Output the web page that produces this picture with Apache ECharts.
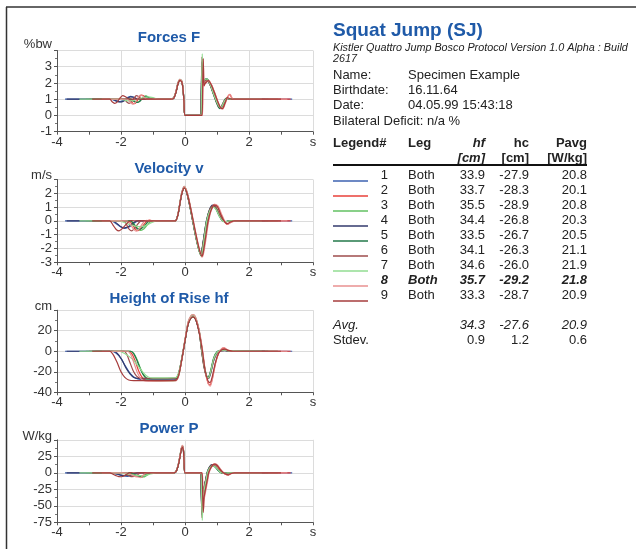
<!DOCTYPE html>
<html><head><meta charset="utf-8">
<script src="https://cdn.jsdelivr.net/npm/echarts@6.0.0/dist/echarts.min.js"></script>
<style>html,body{margin:0;padding:0;background:#fff}#c{width:636px;height:549px}</style>
</head><body><div id="c"></div>
<script>
// ---------- table / legend data ----------
const seriesColors = ['#3c62b0','#e8403a','#62c062','#333a6c','#23784a','#9e4c4c','#92dc92','#e89090','#a63c3c'];
const trialNums = ['1','2','3','4','5','6','7','8','9'];
const trialLegs = ['Both','Both','Both','Both','Both','Both','Both','Both','Both'];
const hfVals = ['33.9','33.7','35.5','34.4','33.5','34.1','34.6','35.7','33.3'];
const hcVals = ['-27.9','-28.3','-28.9','-26.8','-26.7','-26.3','-26.0','-29.2','-28.7'];
const pavgVals = ['20.8','20.1','20.8','20.3','20.5','21.1','21.9','21.8','20.9'];
const bestTrial = 8;
const avgRow = ['Avg.','34.3','-27.6','20.9'];
const stdevRow = ['Stdev.','0.9','1.2','0.6'];
const xTicks = ['-4','-2','0','2','s'];

// ---------- Forces F [%bw] ----------
const forces = [
[[-3.75,1],[-2.3,1],[-2.2,0.92],[-2.05,0.85],[-1.95,0.9],[-1.85,1.05],[-1.7,1.18],[-1.6,1.12],[-1.5,1.02],[-1.3,1],[-0.45,1],[-0.35,1.08],[-0.28,1.45],[-0.22,1.95],[-0.16,2.18],[-0.1,2.08],[-0.06,1.6],[-0.03,0.8],[0,0],[0.49,0],[0.51,1.4],[0.53,3.2],[0.555,1.9],[0.6,2.1],[0.68,2.2],[0.78,1.9],[0.88,1.4],[0.98,0.9],[1.06,0.55],[1.12,0.5],[1.2,0.8],[1.3,1.05],[1.4,1.0],[3.35,1]],
[[-3.0,1],[-1.75,1],[-1.68,0.85],[-1.6,0.72],[-1.52,0.8],[-1.45,1.05],[-1.37,1.25],[-1.28,1.2],[-1.2,1.05],[-1.1,1],[-0.45,1],[-0.35,1.07],[-0.28,1.42],[-0.22,1.92],[-0.16,2.15],[-0.1,2.05],[-0.06,1.55],[-0.03,0.75],[0,0],[0.52,0],[0.54,1.3],[0.56,3.4],[0.585,1.8],[0.63,2.0],[0.72,2.2],[0.82,1.9],[0.92,1.4],[1.02,0.85],[1.1,0.5],[1.16,0.42],[1.24,0.75],[1.33,1.15],[1.4,1.3],[1.47,1.05],[1.6,1.0],[3.3,1]],
[[-3.1,1],[-1.7,1],[-1.6,0.9],[-1.5,0.8],[-1.42,0.88],[-1.32,1.08],[-1.22,1.2],[-1.12,1.1],[-1.02,1.02],[-0.9,1],[-0.45,1],[-0.35,1.1],[-0.28,1.5],[-0.22,2.0],[-0.16,2.22],[-0.1,2.12],[-0.06,1.62],[-0.03,0.82],[0,0],[0.51,0],[0.53,1.5],[0.55,3.0],[0.575,2.0],[0.62,2.15],[0.7,2.2],[0.8,1.85],[0.9,1.3],[1.0,0.8],[1.08,0.55],[1.14,0.5],[1.22,0.85],[1.32,1.05],[1.45,1.0],[2.9,1]],
[[-3.7,1],[-2.25,1],[-2.15,0.9],[-2.02,0.83],[-1.92,0.88],[-1.82,1.02],[-1.7,1.15],[-1.6,1.12],[-1.5,1.03],[-1.35,1],[-0.45,1],[-0.35,1.08],[-0.28,1.48],[-0.22,1.98],[-0.16,2.2],[-0.1,2.1],[-0.06,1.6],[-0.03,0.8],[0,0],[0.49,0],[0.51,1.6],[0.53,3.3],[0.555,2.0],[0.6,2.15],[0.68,2.25],[0.78,1.95],[0.88,1.4],[0.98,0.85],[1.06,0.5],[1.12,0.45],[1.2,0.75],[1.3,1.05],[1.42,1.0],[2.5,1]],
[[-2.9,1],[-1.7,1],[-1.6,0.88],[-1.5,0.8],[-1.42,0.86],[-1.33,1.05],[-1.23,1.18],[-1.13,1.1],[-1.03,1.02],[-0.9,1],[-0.45,1],[-0.35,1.07],[-0.28,1.45],[-0.22,1.95],[-0.16,2.17],[-0.1,2.07],[-0.06,1.58],[-0.03,0.78],[0,0],[0.49,0],[0.51,1.5],[0.53,2.8],[0.555,2.05],[0.6,2.2],[0.68,2.25],[0.78,1.9],[0.88,1.35],[0.98,0.8],[1.05,0.5],[1.1,0.42],[1.18,0.7],[1.28,1.05],[1.4,1.0],[2.6,1]],
[[-2.8,1],[-1.9,1],[-1.83,0.85],[-1.75,0.75],[-1.68,0.82],[-1.6,1.05],[-1.52,1.22],[-1.44,1.15],[-1.36,1.03],[-1.25,1],[-0.45,1],[-0.35,1.08],[-0.28,1.47],[-0.22,1.97],[-0.16,2.19],[-0.1,2.09],[-0.06,1.6],[-0.03,0.8],[0,0],[0.49,0],[0.51,1.5],[0.53,3.6],[0.555,1.9],[0.6,2.05],[0.68,2.2],[0.78,1.9],[0.88,1.4],[0.98,0.88],[1.06,0.55],[1.12,0.5],[1.2,0.8],[1.3,1.05],[1.42,1.0],[2.9,1]],
[[-3.3,1],[-2.05,1],[-1.9,0.95],[-1.75,0.9],[-1.6,0.92],[-1.45,1.0],[-1.3,1.1],[-1.15,1.15],[-1.0,1.1],[-0.88,1.02],[-0.8,1],[-0.45,1],[-0.35,1.1],[-0.28,1.5],[-0.22,2.0],[-0.16,2.2],[-0.1,2.1],[-0.06,1.6],[-0.03,0.8],[0,0],[0.5,0],[0.52,1.6],[0.54,3.8],[0.565,2.1],[0.61,2.2],[0.69,2.25],[0.79,1.9],[0.89,1.35],[0.99,0.85],[1.07,0.55],[1.13,0.5],[1.21,0.8],[1.31,1.05],[1.42,1.0],[2.4,1]],
[[-2.6,1],[-1.8,1],[-1.72,0.85],[-1.64,0.7],[-1.56,0.78],[-1.48,1.05],[-1.4,1.25],[-1.32,1.2],[-1.24,1.05],[-1.15,1],[-0.45,1],[-0.35,1.1],[-0.28,1.52],[-0.22,2.02],[-0.16,2.23],[-0.1,2.13],[-0.06,1.63],[-0.03,0.82],[0,0],[0.54,0],[0.56,1.3],[0.58,3.1],[0.6,1.9],[0.65,2.0],[0.74,2.15],[0.84,1.85],[0.94,1.35],[1.04,0.8],[1.12,0.45],[1.18,0.4],[1.26,0.75],[1.34,1.15],[1.41,1.3],[1.48,1.05],[1.6,1.0],[3.2,1]],
[[-2.9,1],[-2.35,1],[-2.28,0.85],[-2.2,0.75],[-2.12,0.82],[-2.04,1.05],[-1.95,1.22],[-1.86,1.15],[-1.77,1.03],[-1.65,1],[-0.45,1],[-0.35,1.07],[-0.28,1.44],[-0.22,1.94],[-0.16,2.16],[-0.1,2.06],[-0.06,1.57],[-0.03,0.78],[0,0],[0.53,0],[0.55,1.4],[0.57,3.5],[0.595,1.85],[0.64,2.0],[0.73,2.15],[0.83,1.85],[0.93,1.35],[1.03,0.82],[1.11,0.48],[1.17,0.42],[1.25,0.75],[1.33,1.1],[1.45,1.0],[3.0,1]]
];

// ---------- Velocity v [m/s] ----------
const velocity = [
[[-3.75,0],[-2.3,0],[-2.15,-0.2],[-2.0,-0.45],[-1.9,-0.55],[-1.8,-0.5],[-1.65,-0.3],[-1.55,-0.1],[-1.45,0.02],[-1.3,0],[-0.3,0],[-0.25,0.2],[-0.2,0.7],[-0.15,1.4],[-0.1,2.0],[-0.05,2.35],[-0.02,2.42],[0.5,-2.45],[0.54,-2.0],[0.6,-1.1],[0.68,0],[0.78,0.8],[0.88,1.1],[0.98,0.9],[1.08,0.4],[1.18,0.02],[1.28,-0.05],[1.4,0],[3.35,0]],
[[-3.0,0],[-1.75,0],[-1.65,-0.25],[-1.55,-0.6],[-1.47,-0.7],[-1.38,-0.55],[-1.28,-0.25],[-1.2,-0.05],[-1.1,0.05],[-1.0,0],[-0.3,0],[-0.25,0.2],[-0.2,0.65],[-0.15,1.35],[-0.1,1.95],[-0.05,2.33],[-0.02,2.4],[0.53,-2.6],[0.57,-2.2],[0.63,-1.3],[0.71,-0.1],[0.8,0.75],[0.92,1.2],[1.02,1.05],[1.12,0.5],[1.22,0.0],[1.32,-0.25],[1.42,-0.1],[1.55,0],[3.3,0]],
[[-3.1,0],[-1.7,0],[-1.6,-0.2],[-1.5,-0.5],[-1.4,-0.68],[-1.3,-0.6],[-1.2,-0.35],[-1.1,-0.1],[-1.0,0],[-0.3,0],[-0.25,0.22],[-0.2,0.72],[-0.15,1.45],[-0.1,2.05],[-0.05,2.4],[-0.02,2.5],[0.52,-2.55],[0.56,-2.1],[0.62,-1.15],[0.7,0],[0.8,0.8],[0.9,1.1],[1.0,0.85],[1.1,0.35],[1.2,0],[1.3,-0.05],[1.4,0],[2.9,0]],
[[-3.7,0],[-2.25,0],[-2.12,-0.2],[-2.0,-0.42],[-1.9,-0.5],[-1.8,-0.45],[-1.7,-0.3],[-1.6,-0.12],[-1.5,0],[-0.3,0],[-0.25,0.2],[-0.2,0.7],[-0.15,1.4],[-0.1,2.0],[-0.05,2.38],[-0.02,2.45],[0.5,-2.45],[0.54,-1.95],[0.6,-1.0],[0.67,0],[0.77,0.85],[0.86,1.15],[0.96,0.95],[1.06,0.45],[1.16,0.05],[1.26,-0.05],[1.36,0],[2.5,0]],
[[-2.9,0],[-1.7,0],[-1.6,-0.25],[-1.5,-0.55],[-1.42,-0.62],[-1.33,-0.5],[-1.23,-0.25],[-1.15,-0.05],[-1.0,0],[-0.3,0],[-0.25,0.2],[-0.2,0.68],[-0.15,1.38],[-0.1,1.98],[-0.05,2.33],[-0.02,2.4],[0.5,-2.5],[0.54,-2.0],[0.6,-1.05],[0.67,0],[0.77,0.8],[0.87,1.05],[0.97,0.85],[1.07,0.35],[1.17,0],[1.27,-0.05],[1.37,0],[2.6,0]],
[[-2.8,0],[-1.9,0],[-1.82,-0.3],[-1.74,-0.62],[-1.66,-0.72],[-1.58,-0.55],[-1.5,-0.3],[-1.42,-0.08],[-1.35,0.03],[-1.2,0],[-0.3,0],[-0.25,0.2],[-0.2,0.7],[-0.15,1.4],[-0.1,2.0],[-0.05,2.36],[-0.02,2.43],[0.5,-2.45],[0.54,-2.0],[0.6,-1.1],[0.68,0],[0.78,0.85],[0.88,1.12],[0.98,0.9],[1.08,0.4],[1.18,0.02],[1.28,-0.08],[1.4,0],[2.9,0]],
[[-3.3,0],[-2.05,0],[-1.9,-0.12],[-1.75,-0.25],[-1.6,-0.35],[-1.45,-0.42],[-1.3,-0.4],[-1.15,-0.25],[-1.0,-0.08],[-0.9,0],[-0.3,0],[-0.25,0.22],[-0.2,0.72],[-0.15,1.42],[-0.1,2.02],[-0.05,2.37],[-0.02,2.45],[0.51,-2.5],[0.55,-2.05],[0.61,-1.1],[0.68,0],[0.78,0.75],[0.88,1.0],[0.98,0.8],[1.08,0.3],[1.18,-0.02],[1.28,-0.05],[1.38,0],[2.4,0]],
[[-2.6,0],[-1.8,0],[-1.7,-0.28],[-1.6,-0.62],[-1.52,-0.75],[-1.44,-0.6],[-1.36,-0.3],[-1.28,-0.06],[-1.2,0.04],[-1.1,0],[-0.3,0],[-0.25,0.22],[-0.2,0.74],[-0.15,1.46],[-0.1,2.07],[-0.05,2.42],[-0.02,2.5],[0.55,-2.6],[0.59,-2.25],[0.65,-1.4],[0.73,-0.15],[0.82,0.75],[0.94,1.2],[1.04,1.05],[1.14,0.5],[1.24,0],[1.34,-0.25],[1.44,-0.12],[1.58,0],[3.2,0]],
[[-2.9,0],[-2.35,0],[-2.25,-0.3],[-2.15,-0.62],[-2.06,-0.72],[-1.97,-0.58],[-1.87,-0.32],[-1.77,-0.08],[-1.68,0.02],[-1.5,0],[-0.3,0],[-0.25,0.2],[-0.2,0.68],[-0.15,1.38],[-0.1,1.97],[-0.05,2.32],[-0.02,2.4],[0.54,-2.55],[0.58,-2.15],[0.64,-1.25],[0.72,-0.05],[0.81,0.75],[0.92,1.15],[1.02,1.0],[1.12,0.45],[1.22,0],[1.32,-0.2],[1.42,-0.08],[1.55,0],[3.0,0]]
];

// ---------- Height of Rise hf [cm] ----------
const height = [
[[-3.75,0],[-2.3,0],[-2.15,-2],[-2.0,-7],[-1.85,-15],[-1.7,-22],[-1.55,-26],[-1.4,-27.5],[-1.0,-27.9],[-0.6,-27.9],[-0.3,-27.6],[-0.2,-23],[-0.1,-8],[0,10],[0.1,27],[0.2,33.5],[0.26,33.9],[0.35,30],[0.45,18],[0.52,4],[0.6,-14],[0.68,-25],[0.74,-26.5],[0.8,-22],[0.9,-9],[1.0,-2],[1.1,0.5],[1.2,1],[1.35,0.3],[1.6,0],[3.35,0]],
[[-3.0,0],[-1.75,0],[-1.65,-3],[-1.55,-10],[-1.45,-19],[-1.35,-25],[-1.25,-28],[-1.1,-28.3],[-0.6,-28.3],[-0.3,-28],[-0.2,-23.5],[-0.1,-8.5],[0,10],[0.1,27],[0.2,33.3],[0.26,33.7],[0.35,30],[0.45,18],[0.53,3],[0.62,-18],[0.72,-31],[0.78,-33],[0.85,-27],[0.95,-12],[1.05,-2],[1.15,2.5],[1.22,3],[1.32,1],[1.5,0],[3.3,0]],
[[-3.1,0],[-1.7,0],[-1.6,-2],[-1.5,-8],[-1.4,-16],[-1.3,-23],[-1.2,-27],[-1.1,-28.5],[-0.9,-28.9],[-0.3,-28.6],[-0.2,-24],[-0.1,-8],[0,11],[0.1,28.5],[0.2,35],[0.26,35.5],[0.35,31.5],[0.45,19],[0.52,5],[0.6,-13],[0.68,-24],[0.74,-26],[0.8,-21],[0.9,-8],[1.0,-1.5],[1.1,0.5],[1.25,0.8],[1.4,0.2],[2.9,0]],
[[-3.7,0],[-2.25,0],[-2.12,-2],[-1.98,-8],[-1.85,-16],[-1.72,-22],[-1.6,-25.5],[-1.45,-26.5],[-1.0,-26.8],[-0.3,-26.6],[-0.2,-22],[-0.1,-7],[0,10.5],[0.1,27.5],[0.2,34],[0.26,34.4],[0.35,30.5],[0.45,18.5],[0.5,6],[0.58,-12],[0.66,-23],[0.72,-25.5],[0.8,-20],[0.9,-7],[1.0,-1],[1.1,0.3],[1.25,0.5],[1.4,0],[2.5,0]],
[[-2.9,0],[-1.7,0],[-1.6,-2.5],[-1.5,-9],[-1.4,-17],[-1.3,-23],[-1.2,-26],[-1.05,-26.7],[-0.3,-26.5],[-0.2,-22],[-0.1,-7.5],[0,10],[0.1,26.5],[0.2,33],[0.26,33.5],[0.35,29.5],[0.45,17.5],[0.5,5],[0.58,-12],[0.66,-23.5],[0.72,-26],[0.8,-19],[0.9,-6],[1.0,-0.5],[1.1,1],[1.2,1.2],[1.35,0.3],[2.6,0]],
[[-2.8,0],[-1.9,0],[-1.82,-3],[-1.72,-11],[-1.62,-19],[-1.52,-24],[-1.42,-26],[-1.25,-26.3],[-0.3,-26.1],[-0.2,-21.5],[-0.1,-7],[0,10.5],[0.1,27],[0.2,33.7],[0.26,34.1],[0.35,30.2],[0.45,18],[0.5,5],[0.58,-13],[0.66,-24],[0.72,-26.5],[0.8,-21],[0.9,-8],[1.0,-1.5],[1.1,0.3],[1.25,0.8],[1.4,0],[2.9,0]],
[[-3.3,0],[-2.05,0],[-1.9,-2],[-1.75,-5],[-1.6,-9],[-1.45,-15],[-1.3,-21],[-1.15,-25],[-1.0,-26],[-0.3,-25.8],[-0.2,-21],[-0.1,-6.5],[0,11],[0.1,27.5],[0.2,34.2],[0.26,34.6],[0.35,30.8],[0.45,18.5],[0.51,5],[0.6,-14],[0.67,-24],[0.73,-26],[0.8,-20],[0.9,-7],[1.0,-1],[1.1,0.8],[1.25,1],[1.4,0.3],[2.4,0]],
[[-2.6,0],[-1.8,0],[-1.7,-3],[-1.6,-11],[-1.5,-20],[-1.4,-26],[-1.3,-28.5],[-1.15,-29.2],[-0.3,-29],[-0.2,-24.5],[-0.1,-8.5],[0,11.5],[0.1,29],[0.2,35.2],[0.26,35.7],[0.35,31.8],[0.45,19.5],[0.55,1],[0.64,-20],[0.73,-32],[0.79,-34],[0.86,-27],[0.96,-11],[1.06,-1],[1.16,3],[1.22,3.5],[1.32,1.5],[1.5,0],[3.2,0]],
[[-2.9,0],[-2.35,0],[-2.25,-3],[-2.12,-11],[-2.0,-20],[-1.88,-25.5],[-1.76,-28],[-1.6,-28.7],[-0.3,-28.5],[-0.2,-23.5],[-0.1,-8],[0,10],[0.1,26.5],[0.2,32.9],[0.26,33.3],[0.35,29.4],[0.45,17],[0.54,1],[0.63,-19],[0.72,-29],[0.78,-30.5],[0.85,-25],[0.95,-11],[1.05,-2],[1.15,1.5],[1.25,2],[1.35,0.8],[1.5,0],[3.0,0]]
];

// ---------- Power P [W/kg] ----------
const power = [
[[-3.75,0],[-2.3,0],[-2.15,-1.7],[-2.0,-3.8],[-1.9,-4.8],[-1.8,-5.3],[-1.7,-4.5],[-1.6,-2.2],[-1.5,-0.5],[-1.4,0.1],[-1.3,0],[-0.35,0],[-0.28,2],[-0.22,10],[-0.16,24],[-0.12,35],[-0.08,40],[-0.05,35],[-0.03,19],[0,0],[0.49,0],[0.51,-30],[0.53,-62],[0.555,-38],[0.6,-23],[0.66,-8],[0.7,0],[0.78,9],[0.86,12],[0.95,9],[1.04,4],[1.12,0.5],[1.2,-0.8],[1.3,-0.3],[1.4,0],[3.35,0]],
[[-3.0,0],[-1.75,0],[-1.66,-1.8],[-1.57,-4.3],[-1.5,-5.2],[-1.42,-5.5],[-1.35,-6.5],[-1.28,-3.2],[-1.2,-0.6],[-1.1,0.4],[-1.0,0],[-0.35,0],[-0.28,1.8],[-0.22,9.5],[-0.16,23.5],[-0.12,34],[-0.08,39],[-0.05,34],[-0.03,18],[0,0],[0.52,0],[0.54,-28],[0.56,-58],[0.585,-36],[0.63,-24],[0.69,-10],[0.73,0],[0.8,8],[0.9,13],[0.99,11],[1.08,5],[1.17,0.5],[1.26,-2],[1.34,-3.3],[1.42,-1.2],[1.55,0],[3.3,0]],
[[-3.1,0],[-1.7,0],[-1.6,-1.6],[-1.5,-3.9],[-1.4,-5.8],[-1.3,-6.4],[-1.2,-4.1],[-1.1,-1.1],[-1.0,0],[-0.35,0],[-0.28,2.1],[-0.22,10.5],[-0.16,25],[-0.12,36],[-0.08,41],[-0.05,36],[-0.03,19.5],[0,0],[0.51,0],[0.53,-32],[0.55,-55],[0.575,-40],[0.62,-24],[0.68,-7],[0.71,0],[0.79,9],[0.87,11.5],[0.96,9],[1.05,3.5],[1.13,0.2],[1.22,-0.5],[1.32,-0.3],[1.42,0],[2.9,0]],
[[-3.7,0],[-2.25,0],[-2.12,-1.8],[-2.0,-3.4],[-1.9,-4.3],[-1.8,-4.5],[-1.7,-3.4],[-1.6,-1.3],[-1.5,0],[-0.35,0],[-0.28,2],[-0.22,10],[-0.16,24.5],[-0.12,35.5],[-0.08,40.5],[-0.05,35.5],[-0.03,19],[0,0],[0.49,0],[0.51,-35],[0.53,-64],[0.555,-40],[0.6,-21],[0.66,-7],[0.69,0],[0.77,9.5],[0.85,12.5],[0.94,10],[1.03,4.5],[1.11,1],[1.2,-0.5],[1.3,-0.2],[1.4,0],[2.5,0]],
[[-2.9,0],[-1.7,0],[-1.6,-2.1],[-1.5,-4.3],[-1.42,-5.2],[-1.33,-5.1],[-1.23,-2.9],[-1.15,-0.6],[-1.05,0],[-0.35,0],[-0.28,1.9],[-0.22,9.5],[-0.16,23.5],[-0.12,34.5],[-0.08,39.5],[-0.05,34.5],[-0.03,18.5],[0,0],[0.49,0],[0.51,-32],[0.53,-55],[0.555,-40],[0.6,-23],[0.66,-8],[0.69,0],[0.77,8.5],[0.86,11],[0.95,8.5],[1.04,3.5],[1.12,0.3],[1.2,-0.5],[1.3,-0.2],[1.4,0],[2.6,0]],
[[-2.8,0],[-1.9,0],[-1.82,-2.4],[-1.74,-4.5],[-1.66,-5.8],[-1.58,-5.6],[-1.5,-3.6],[-1.42,-0.9],[-1.35,0.3],[-1.2,0],[-0.35,0],[-0.28,2],[-0.22,10],[-0.16,24],[-0.12,35],[-0.08,40],[-0.05,35],[-0.03,19],[0,0],[0.49,0],[0.51,-30],[0.53,-68],[0.555,-37],[0.6,-22],[0.66,-8],[0.7,0],[0.78,9],[0.87,12.5],[0.96,9.5],[1.05,4],[1.13,0.5],[1.22,-1],[1.32,-0.5],[1.42,0],[2.9,0]],
[[-3.3,0],[-2.05,0],[-1.9,-1.1],[-1.75,-2.2],[-1.6,-3.2],[-1.45,-4.1],[-1.3,-4.3],[-1.15,-2.8],[-1.0,-0.9],[-0.9,0],[-0.35,0],[-0.28,2.1],[-0.22,10.5],[-0.16,25],[-0.12,36],[-0.08,41],[-0.05,36],[-0.03,19.5],[0,0],[0.5,0],[0.52,-35],[0.54,-72],[0.565,-40],[0.61,-23],[0.67,-8],[0.7,0],[0.78,8],[0.87,10.5],[0.96,8.5],[1.05,3.5],[1.13,0],[1.22,-0.5],[1.32,-0.2],[1.42,0],[2.4,0]],
[[-2.6,0],[-1.8,0],[-1.71,-2.3],[-1.62,-4.3],[-1.55,-5.9],[-1.47,-6.4],[-1.39,-7.3],[-1.31,-3.6],[-1.24,-0.8],[-1.15,0.2],[-1.05,0],[-0.35,0],[-0.28,2.2],[-0.22,11],[-0.16,25.5],[-0.12,36.5],[-0.08,41.5],[-0.05,36.5],[-0.03,20],[0,0],[0.54,0],[0.56,-30],[0.58,-56],[0.6,-40],[0.65,-27],[0.71,-12],[0.75,0],[0.83,8.5],[0.93,13.5],[1.02,11.5],[1.11,5.5],[1.2,0.5],[1.28,-2.2],[1.36,-3.5],[1.44,-1.4],[1.58,0],[3.2,0]],
[[-2.9,0],[-2.35,0],[-2.25,-2.2],[-2.15,-4.5],[-2.07,-5.8],[-1.99,-6],[-1.9,-4.5],[-1.8,-1.4],[-1.7,0.2],[-1.55,0],[-0.35,0],[-0.28,1.8],[-0.22,9.5],[-0.16,23],[-0.12,34],[-0.08,39],[-0.05,34],[-0.03,18],[0,0],[0.53,0],[0.55,-28],[0.57,-60],[0.595,-38],[0.64,-25],[0.7,-10],[0.74,0],[0.82,8.5],[0.92,13],[1.01,11],[1.1,5],[1.19,0.5],[1.28,-2],[1.36,-3],[1.44,-1],[1.55,0],[3.0,0]]
];

// ---------- chart setup ----------
const FONT = '"Liberation Sans", Arial, sans-serif';
const panels = [
  {title:'Forces F', unit:'%bw', data:forces, min:-1, max:4, interval:1, top:50.5, height:81.2, titleY:38, unitY:44},
  {title:'Velocity v', unit:'m/s', data:velocity, min:-3, max:3, interval:1, top:179.5, height:82.8, titleY:169, unitY:175},
  {title:'Height of Rise hf', unit:'cm', data:height, min:-40, max:40, interval:20, top:310.2, height:82.1, titleY:299, unitY:306},
  {title:'Power P', unit:'W/kg', data:power, min:-75, max:50, interval:25, top:439.8, height:82.5, titleY:429, unitY:436}
];

const grid = [], xAxis = [], yAxis = [], series = [], graphic = [];
panels.forEach((p, i) => {
  grid.push({left:57, width:256, top:p.top, height:p.height, containLabel:false});
  xAxis.push({
    type:'value', gridIndex:i, min:-4, max:4, interval:2,
    axisLine:{show:true, onZero:false, lineStyle:{color:'#555', width:1}},
    axisTick:{show:true, length:3, lineStyle:{color:'#555'}},
    minorTick:{show:true, splitNumber:2, length:3, lineStyle:{color:'#555'}},
    splitLine:{show:true, lineStyle:{color:'#dcdcdc', width:1}},
    axisLabel:{margin:4, color:'#333', fontFamily:FONT, fontSize:13,
      formatter:(v) => xTicks[Math.round((v + 4) / 2)]}
  });
  yAxis.push({
    type:'value', gridIndex:i, min:p.min, max:p.max, interval:p.interval,
    axisLine:{show:true, onZero:false, lineStyle:{color:'#555', width:1}},
    axisTick:{show:true, length:3, lineStyle:{color:'#555'}},
    minorTick:{show:true, splitNumber:2, length:2, lineStyle:{color:'#777'}},
    splitLine:{show:true, lineStyle:{color:'#dcdcdc', width:1}},
    axisLabel:{margin:5, color:'#333', fontFamily:FONT, fontSize:13,
      formatter:(v) => v === p.max ? '' : String(v)}
  });
  p.data.forEach((d, j) => {
    series.push({
      type:'line', xAxisIndex:i, yAxisIndex:i, data:d,
      showSymbol:false, symbol:'none', smooth:0.25, animation:false,
      lineStyle:{width:1.2, color:seriesColors[j]}, itemStyle:{color:seriesColors[j]},
      z:2 + j
    });
  });
  graphic.push({type:'text', x:169, y:p.titleY, style:{text:p.title, fill:'#1f5aa8',
    font:'bold 15px ' + FONT, align:'center', verticalAlign:'middle'}});
  graphic.push({type:'text', x:52, y:p.unitY, style:{text:p.unit, fill:'#333',
    font:'13px ' + FONT, align:'right', verticalAlign:'middle'}});
});

// frame
graphic.push({type:'line', shape:{x1:6, y1:7, x2:636, y2:7}, style:{stroke:'#333', lineWidth:1.5}});
graphic.push({type:'line', shape:{x1:6.5, y1:7, x2:6.5, y2:549}, style:{stroke:'#333', lineWidth:1.5}});

// right panel
const TX = 333, VX = 408;
const txt = (text, x, y, font, align, fill) => graphic.push({type:'text', x, y,
  style:{text, font:font + ' ' + FONT, align:align || 'left', verticalAlign:'middle', fill:fill || '#222'}});
txt('Squat Jump (SJ)', TX, 31, 'bold 19px', 'left', '#1f5aa8');
txt('Kistler Quattro Jump Bosco Protocol Version 1.0 Alpha : Build', TX, 48, 'italic 10.8px');
txt('2617', TX, 59, 'italic 10.8px');
txt('Name:', TX, 75, '13px'); txt('Specimen Example', VX, 75, '13px');
txt('Birthdate:', TX, 90.5, '13px'); txt('16.11.64', VX, 90.5, '13px');
txt('Date:', TX, 105.5, '13px'); txt('04.05.99 15:43:18', VX, 105.5, '13px');
txt('Bilateral Deficit: n/a %', TX, 121, '13px');

const C_NUM = 388, C_HF = 485, C_HC = 529, C_PA = 587;
txt('Legend#', TX, 143, 'bold 13px');
txt('Leg', VX, 143, 'bold 13px');
txt('hf', C_HF, 143, 'italic bold 13px', 'right');
txt('hc', C_HC, 143, 'bold 13px', 'right');
txt('Pavg', C_PA, 143, 'bold 13px', 'right');
txt('[cm]', C_HF, 158, 'italic bold 13px', 'right');
txt('[cm]', C_HC, 158, 'bold 13px', 'right');
txt('[W/kg]', C_PA, 158, 'bold 13px', 'right');
graphic.push({type:'line', shape:{x1:TX, y1:165, x2:C_PA, y2:165}, style:{stroke:'#111', lineWidth:2}});

trialNums.forEach((n, k) => {
  const y = 175 + 15 * k;
  const f = (k + 1 === bestTrial) ? 'italic bold 13px' : '13px';
  graphic.push({type:'line', shape:{x1:TX, y1:y + 6, x2:368, y2:y + 6}, style:{stroke:seriesColors[k], lineWidth:1.5}});
  txt(n, C_NUM, y, f, 'right');
  txt(trialLegs[k], VX, y, f);
  txt(hfVals[k], C_HF, y, f, 'right');
  txt(hcVals[k], C_HC, y, f, 'right');
  txt(pavgVals[k], C_PA, y, f, 'right');
});
txt(avgRow[0], TX, 325, 'italic 13px');
txt(avgRow[1], C_HF, 325, 'italic 13px', 'right');
txt(avgRow[2], C_HC, 325, 'italic 13px', 'right');
txt(avgRow[3], C_PA, 325, 'italic 13px', 'right');
txt(stdevRow[0], TX, 340, '13px');
txt(stdevRow[1], C_HF, 340, '13px', 'right');
txt(stdevRow[2], C_HC, 340, '13px', 'right');
txt(stdevRow[3], C_PA, 340, '13px', 'right');

const chart = echarts.init(document.getElementById('c'), null, {renderer:'canvas'});
chart.setOption({backgroundColor:'#fff', animation:false, grid, xAxis, yAxis, series, graphic});
</script></body></html>
